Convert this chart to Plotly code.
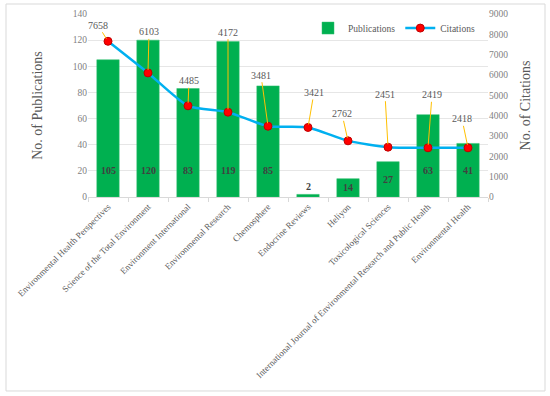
import plotly.graph_objects as go

journals = [
    "Environmental Health Perspectives",
    "Science of the Total Environment",
    "Environment International",
    "Environmental Research",
    "Chemosphere",
    "Endocrine Reviews",
    "Heliyon",
    "Toxicological Sciences",
    "International Journal of Environmental Research and Public Health",
    "Environmental Health",
]
publications = [105, 120, 83, 119, 85, 2, 14, 27, 63, 41]
citations = [7658, 6103, 4485, 4172, 3481, 3421, 2762, 2451, 2419, 2418]

# label offsets (pixels) for citation call-outs
cit_ax = [-10, 1, 1, 0, -7, 6, -6, -3, 4, -6]
cit_ay = [-16, -41, -25, -80, -51, -35, -27, -53, -53, -29]

SERIF = "Liberation Serif"
GRAY = "#595959"

fig = go.Figure()
fig.add_trace(go.Bar(
    x=journals, y=publications, name="Publications",
    marker=dict(color="#00B050", line=dict(color="#33C070", width=0.5)),
    width=0.56, yaxis="y",
))
fig.add_trace(go.Scatter(
    x=journals, y=citations, name="Citations", yaxis="y2",
    mode="lines+markers",
    line=dict(color="#00B0F0", width=2.5, shape="spline", smoothing=0.6),
    marker=dict(color="#FF0000", size=8, line=dict(color="#C00000", width=1)),
))

ann = []
for j, p in zip(journals, publications):
    if p < 5:
        yv, ya = p, "bottom"
    else:
        yv, ya = min(p / 2, 20), "middle"
    ann.append(dict(x=j, y=yv, xref="x", yref="y", text=f"<b>{p}</b>",
                    showarrow=False, yanchor=ya,
                    font=dict(family=SERIF, size=10, color="#404040")))
for j, c, ax, ay in zip(journals, citations, cit_ax, cit_ay):
    ann.append(dict(x=j, y=c, xref="x", yref="y2", text=str(c),
                    showarrow=True, arrowhead=0, arrowwidth=1,
                    arrowcolor="#FFC000", ax=ax, ay=ay, standoff=3,
                    font=dict(family=SERIF, size=10, color=GRAY)))

fig.update_layout(
    width=550, height=396,
    margin=dict(l=88, r=62, t=14, b=199),
    paper_bgcolor="white", plot_bgcolor="white",
    font=dict(family=SERIF, size=9, color=GRAY),
    bargap=0.44,
    showlegend=True,
    legend=dict(orientation="h", x=0.55, y=0.923, xanchor="left", yanchor="middle",
                font=dict(family=SERIF, size=9.5, color=GRAY),
                bgcolor="rgba(0,0,0,0)", itemwidth=30, tracegroupgap=0),
    xaxis=dict(tickangle=-45, tickfont=dict(family=SERIF, size=9, color=GRAY),
               range=[-0.5, len(journals) - 0.5],
               showline=True, linecolor="#D9D9D9", linewidth=1,
               ticks="outside", tickson="boundaries", ticklen=4, tickcolor="#D9D9D9",
               showgrid=False, automargin=False),
    yaxis=dict(range=[0, 140], dtick=20, showgrid=True, gridcolor="#E6E6E6",
               zeroline=False, showline=False, automargin=False,
               tickfont=dict(family=SERIF, size=9.5, color="#7F7F7F"),
               title=dict(text="No. of Publications", standoff=26,
                          font=dict(family=SERIF, size=14, color=GRAY))),
    yaxis2=dict(range=[0, 9000], dtick=1000, overlaying="y", side="right",
                showgrid=False, zeroline=False, showline=False, automargin=False,
                tickfont=dict(family=SERIF, size=9.5, color="#7F7F7F"),
                title=dict(text="No. of Citations", standoff=12,
                           font=dict(family=SERIF, size=14, color=GRAY))),
    annotations=ann,
    shapes=[dict(type="rect", xref="paper", yref="paper",
                 x0=-0.205, x1=1.1425, y0=-1.06, y1=1.0546,
                 line=dict(color="#D9D9D9", width=1), layer="below")],
)

fig.write_html("out.html", config={"displayModeBar": False},
               post_script="document.body.style.margin='0';")
